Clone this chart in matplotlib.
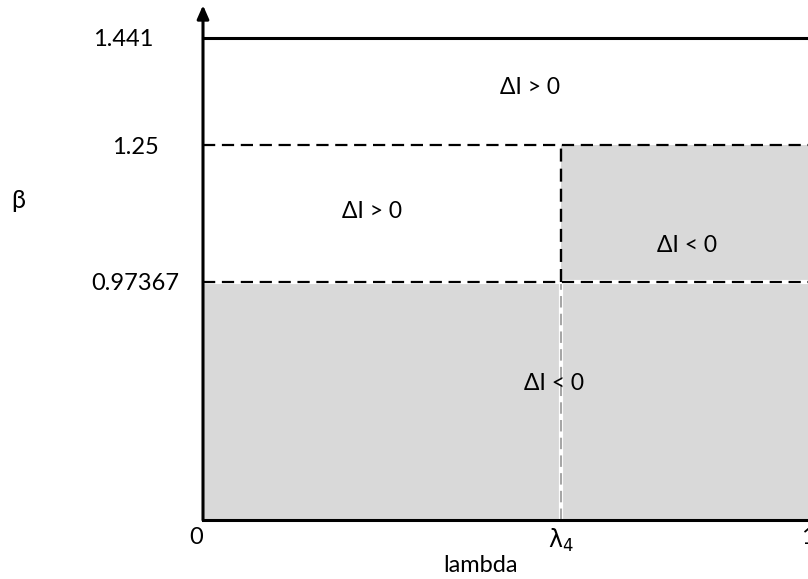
import numpy as np
import matplotlib
matplotlib.use("Agg")
import matplotlib.pyplot as plt

plt.rcParams["font.family"] = ["Lato", "DejaVu Sans"]
plt.rcParams["mathtext.fontset"] = "dejavusans"

# data
beta_levels = [0.0, 0.97367, 1.25, 1.441]
beta_labels = ["", "0.97367", "1.25", "1.441"]
lambda_4 = 0.592
lambda_ticks = [0.0, lambda_4, 1.0]
lambda_labels = ["0", r"$\mathrm{\lambda}_4$", "1"]
region_labels = ["ΔI > 0", "ΔI > 0", "ΔI < 0", "ΔI < 0"]
region_x = [0.54, 0.28, 0.80, 0.58]
region_y = [1.352, 1.115, 1.048, 0.56]

GREY = "#d9d9d9"
DASH_GREY = "#a6a6a6"

# schematic (non-linear) beta axis
display_steps = np.array([0.0, 238.0, 375.0, 482.0])


def fwd(v):
    return np.interp(v, beta_levels, display_steps)


def inv(v):
    return np.interp(v, display_steps, beta_levels)


fig = plt.figure(figsize=(8.08, 5.79), dpi=100, facecolor="white")
ax = fig.add_axes([203 / 808, 59 / 579, 605 / 808, 482 / 579])
ax.set_yscale("function", functions=(fwd, inv))
ax.set_xlim(0, 1)
ax.set_ylim(beta_levels[0], beta_levels[-1])

# shaded regions
ax.fill_between([0, 1], 0, beta_levels[1], color=GREY, linewidth=0)
ax.fill_between([lambda_4, 1], beta_levels[1], beta_levels[2], color=GREY, linewidth=0)

# separators
ax.plot([lambda_4, lambda_4], [0, beta_levels[1]], color="white", lw=3)
ax.plot([lambda_4, lambda_4], [0, beta_levels[1]], color=DASH_GREY, lw=1.5, dashes=(5.5, 3))
ax.plot([0, 1], [beta_levels[1]] * 2, color="white", lw=3)
ax.plot([lambda_4, lambda_4], [beta_levels[1], beta_levels[2]], color="black", lw=1.7, dashes=(5.5, 3))
for level in beta_levels[1:3]:
    ax.plot([0, 1], [level, level], color="black", lw=1.6, dashes=(5.5, 3))
ax.plot([0, 1], [beta_levels[3]] * 2, color="black", lw=2.2, clip_on=False)

for label, x, y in zip(region_labels, region_x, region_y):
    ax.text(x, y, label, ha="center", va="center", fontsize=16.5)

for side in ("top", "right", "left"):
    ax.spines[side].set_visible(False)
ax.spines["bottom"].set_linewidth(2.2)
ax.annotate("", xy=(0, 1.068), xytext=(0, 0), xycoords="axes fraction",
            arrowprops=dict(arrowstyle="-|>,head_length=0.8,head_width=0.35",
                            color="black", lw=2.2, shrinkA=0, shrinkB=0),
            annotation_clip=False)

ax.set_yticks(beta_levels[1:], beta_labels[1:])
ax.set_xticks(lambda_ticks, lambda_labels)
ax.tick_params(axis="both", length=0, labelsize=17)
ax.tick_params(axis="x", pad=5)
ax.tick_params(axis="y", pad=49)
for lab in ax.get_yticklabels():
    lab.set_horizontalalignment("center")
ax.get_xticklabels()[0].set_horizontalalignment("right")
ax.get_yticklabels()[2].set_x(-0.02)

ax.set_xlabel("lambda", fontsize=17)
ax.xaxis.set_label_coords(0.458, -0.072)
ax.set_ylabel("β", fontsize=18, rotation=0)
ax.yaxis.set_label_coords(-0.306, 0.64)

fig.savefig("out.png", dpi=100)
